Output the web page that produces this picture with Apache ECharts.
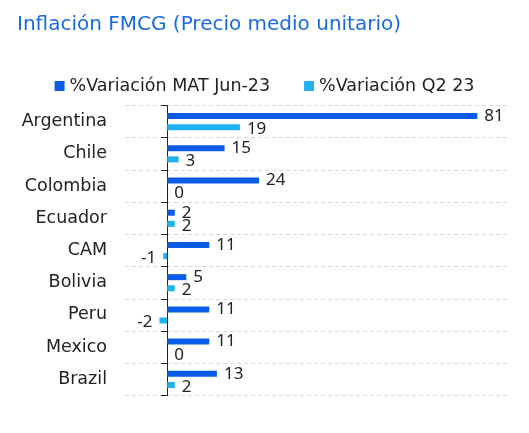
<!DOCTYPE html>
<html>
<head>
<meta charset="utf-8">
<script src="https://cdn.jsdelivr.net/npm/echarts@6/dist/echarts.min.js"></script>
<style>
    html, body { margin: 0; padding: 0; background: #fff; }
    #chart { width: 529px; height: 433px; }
</style>
</head>
<body>
<div id="chart"></div>
<script>
var countries = ['Argentina', 'Chile', 'Colombia', 'Ecuador', 'CAM', 'Bolivia', 'Peru', 'Mexico', 'Brazil'];
var matJun23 = [81, 15, 24, 2, 11, 5, 11, 11, 13];
var q2_23 = [19, 3, 0, 2, -1, 2, -2, 0, 2];
var seriesNames = ['%Variación MAT Jun-23', '%Variación Q2 23'];

var font = 'DejaVu Sans';
var numFont = 'Noto Sans';
var myChart = echarts.init(document.getElementById('chart'));

function valueLabel(params) {
    return params.value;
}

let option = {
    backgroundColor: '#fff',
    textStyle: { fontFamily: font },
    title: {
        text: 'Inflación FMCG (Precio medio unitario)',
        left: 12,
        top: 10,
        textStyle: {
            color: '#1a6be0',
            fontSize: 20,
            fontWeight: 'normal',
            fontFamily: font
        }
    },
    legend: {
        top: 72,
        left: 'center',
        icon: 'rect',
        itemWidth: 10,
        itemHeight: 10,
        itemGap: 34,
        textStyle: { color: '#222', fontSize: 17.5, fontFamily: font },
        data: seriesNames
    },
    grid: {
        left: 125,
        right: 21,
        top: 105.5,
        bottom: 37.5
    },
    xAxis: {
        type: 'value',
        min: -11,
        max: 89,
        show: true,
        axisLine: { show: false },
        axisTick: { show: false },
        axisLabel: { show: false },
        splitLine: { show: false }
    },
    yAxis: [
        {
            // labels + dashed band lines
            type: 'category',
            inverse: true,
            data: countries,
            axisLine: { show: false, onZero: false },
            axisTick: { show: false },
            axisLabel: {
                color: '#222',
                fontSize: 17.5,
                margin: 18,
                fontFamily: font
            },
            splitLine: {
                show: true,
                lineStyle: { color: '#d9d9d9', type: [4, 3], width: 1 }
            }
        },
        {
            // line at zero with ticks
            type: 'category',
            inverse: true,
            position: 'left',
            data: countries,
            axisLine: { show: true, onZero: true, onZeroAxisIndex: 0, lineStyle: { color: '#222', width: 1 } },
            axisTick: { show: true, length: 6, inside: false, lineStyle: { color: '#222', width: 1 } },
            axisLabel: { show: false },
            splitLine: { show: false }
        }
    ],
    series: [
        {
            name: seriesNames[0],
            type: 'bar',
            yAxisIndex: 0,
            barWidth: 6,
            barGap: '85%',
            itemStyle: { color: '#0a5ce6' },
            label: {
                show: true,
                position: 'right',
                distance: 7,
                color: '#222',
                fontSize: 17,
                fontFamily: numFont,
                formatter: valueLabel
            },
            data: matJun23
        },
        {
            name: seriesNames[1],
            type: 'bar',
            yAxisIndex: 0,
            barWidth: 6,
            itemStyle: { color: '#1fb0ef' },
            label: {
                show: true,
                position: 'right',
                distance: 7,
                offset: [0, 2],
                color: '#222',
                fontSize: 17,
                fontFamily: numFont,
                formatter: valueLabel
            },
            data: q2_23.map(function (v) {
                // negative values get their label on the left
                return v < 0 ? { value: v, label: { position: 'left' } } : v;
            })
        }
    ]
};
myChart.setOption(option, true);
</script>
</body>
</html>
